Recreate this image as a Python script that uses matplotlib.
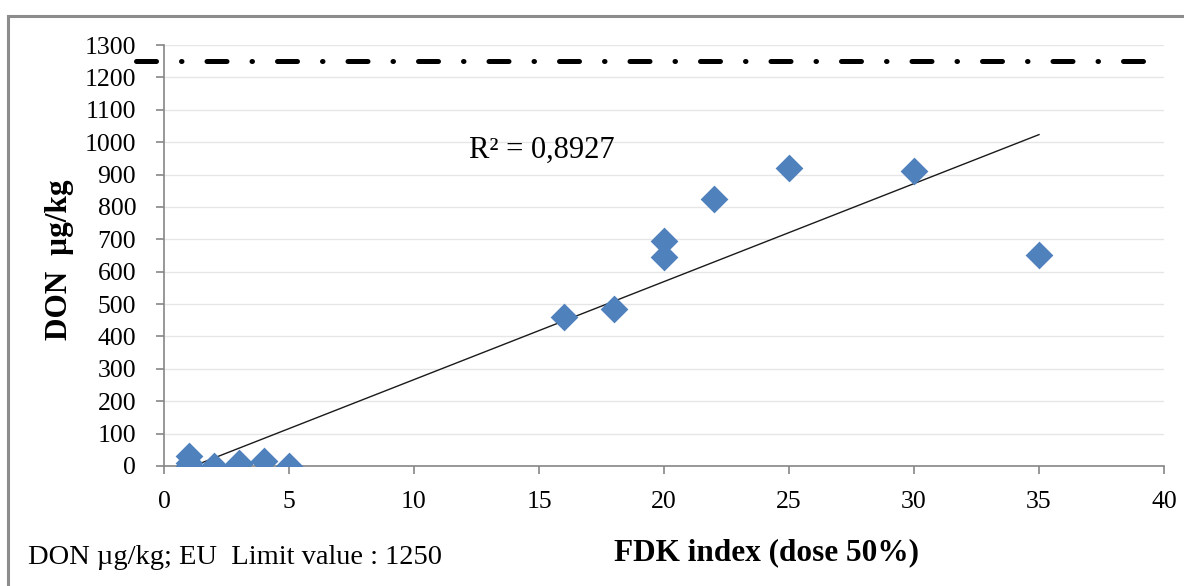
import numpy as np
import matplotlib.pyplot as plt
from matplotlib.patches import Rectangle

plt.rcParams['font.family'] = ['Liberation Serif', 'DejaVu Serif']

# FDK index vs DON content
fdk = [1, 1, 1, 2, 3, 3, 4, 5, 16, 18, 20, 20, 22, 25, 30, 35]
don = [0, 10, 30, 0, 5, 10, 15, 0, 460, 485, 645, 695, 825, 920, 910, 650]
eu_limit = 1250
r2_label = 'R² = 0,8927'
y_ticks = list(range(0, 1301, 100))
x_ticks = list(range(0, 41, 5))

fig = plt.figure(figsize=(11.84, 5.86), dpi=100)
ax = fig.add_axes([0.1385, 0.2048, 0.8446, 0.7184])

# frame around the whole chart (only top/left visible in the crop)
fig.patches.append(Rectangle((8 / 1184, -0.1), 1.2, 1 - 16 / 586 + 0.1, transform=fig.transFigure,
                             fill=False, edgecolor='#8c8c8c', linewidth=2.2, clip_on=False))

ax.scatter(fdk, don, marker='D', s=200, color='#4f81bd', zorder=5, linewidths=0)

# linear trend line
slope, intercept = np.polyfit(fdk, don, 1)
xs = np.array([min(fdk), max(fdk)])
ax.plot(xs, slope * xs + intercept, color='#1a1a1a', linewidth=1.0, zorder=4)

# EU limit line
ax.plot([-1.1, 39.5], [eu_limit, eu_limit], color='black', linewidth=3.6,
        dashes=(4, 5, 0.1, 5), dash_capstyle='round', clip_on=False, zorder=6)

ax.text(12.2, 975, r2_label, fontsize=22, va='center', ha='left')

ax.set_xlim(0, 40)
ax.set_ylim(0, 1300)
ax.set_xticks(x_ticks)
ax.set_yticks(y_ticks)
ax.tick_params(labelsize=18.5, color='#868686', length=6, width=1.2)
ax.tick_params(axis='y', pad=14)
ax.tick_params(axis='x', pad=12)
ax.yaxis.grid(True, color='#e6e6e6', linewidth=1)
ax.set_axisbelow(True)
for side in ['top', 'right']:
    ax.spines[side].set_visible(False)
for side in ['left', 'bottom']:
    ax.spines[side].set_color('#868686')
    ax.spines[side].set_linewidth(1.2)

ax.set_ylabel('DON  µg/kg', fontsize=22.5, fontweight='bold')
ax.yaxis.label.set_verticalalignment('center')
ax.yaxis.set_label_coords(-0.104, 0.49)
fig.text(767 / 1184, 1 - 553 / 586, 'FDK index (dose 50%)', fontsize=22.5, fontweight='bold',
         ha='center', va='center')
fig.text(28 / 1184, 1 - 557 / 586, 'DON µg/kg; EU  Limit value : 1250', fontsize=20.5,
         ha='left', va='center')

fig.savefig('out.png', dpi=100)
